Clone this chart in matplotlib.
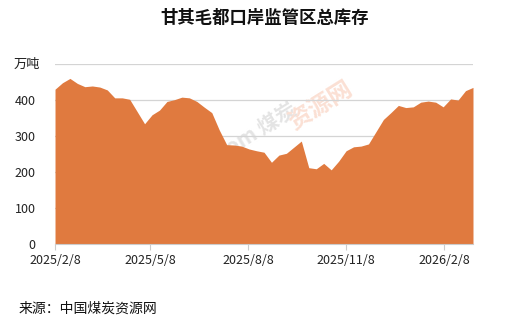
import numpy as np
import pandas as pd
import matplotlib
matplotlib.use('Agg')
from matplotlib import pyplot as plt

plt.rcParams['font.family'] = ['Noto Sans CJK SC', 'DejaVu Sans']

# weekly stock, 万吨
dates = pd.date_range('2025-02-08', periods=57, freq='7D')
stock = [430, 448, 460, 446, 437, 439, 436, 428, 406, 406,
         402, 368, 334, 359, 372, 396, 401, 408, 406, 396,
         380, 365, 317, 276, 275, 272, 264, 259, 255, 227,
         247, 252, 269, 286, 212, 209, 224, 206, 230, 259,
         270, 272, 278, 312, 346, 365, 385, 379, 381, 394,
         397, 394, 381, 403, 400, 426, 435]

tick_dates = pd.to_datetime(['2025-02-08', '2025-05-08', '2025-08-08', '2025-11-08', '2026-02-08'])
tick_labels = ['2025/2/8', '2025/5/8', '2025/8/8', '2025/11/8', '2026/2/8']

fig = plt.figure(figsize=(5.2, 3.31), dpi=100)
ax = fig.add_axes([0.1058, 0.2628, 0.8038, 0.5438])

ax.fill_between(dates, stock, 0, color='#E07A3F', linewidth=0, zorder=3)

ax.set_xlim(dates[0], dates[-1])
ax.set_ylim(0, 500)
ax.set_yticks(range(0, 501, 100))
ax.set_yticklabels(['0', '100', '200', '300', '400', ''], fontsize=9, color='#222222')
ax.yaxis.grid(True, color='#d4d4d4', linewidth=0.9, zorder=0)
ax.tick_params(axis='y', length=0, pad=14)

ax.set_xticks(tick_dates)
ax.set_xticklabels(tick_labels, fontsize=9, color='#222222')
ax.tick_params(axis='x', length=4, color='#cccccc', pad=3)

for side in ['top', 'right', 'left']:
    ax.spines[side].set_visible(False)
ax.spines['bottom'].set_color('#cccccc')
ax.spines['bottom'].set_zorder(4)

# faint watermark, sits behind the area
ax.text(0.41, 0.52, 'sxcoal.com 煤炭', fontsize=15, color='#e4e4e4', rotation=32,
        ha='center', va='center', fontweight='bold', transform=ax.transAxes, zorder=1)
ax.text(0.634, 0.77, '资源网', fontsize=17, color='#fbe0d4', rotation=32,
        ha='center', va='center', fontweight='bold', transform=ax.transAxes, zorder=1)

fig.text(0.508, 0.945, '甘其毛都口岸监管区总库存', fontsize=12.5, fontweight='bold',
         ha='center', va='center', color='#111111')
fig.text(0.027, 0.806, '万吨', fontsize=9.5, ha='left', va='center', color='#222222')
fig.text(0.035, 0.067, '来源：中国煤炭资源网', fontsize=10, ha='left', va='center', color='#111111')

fig.savefig('out.png', dpi=100, facecolor='white')
